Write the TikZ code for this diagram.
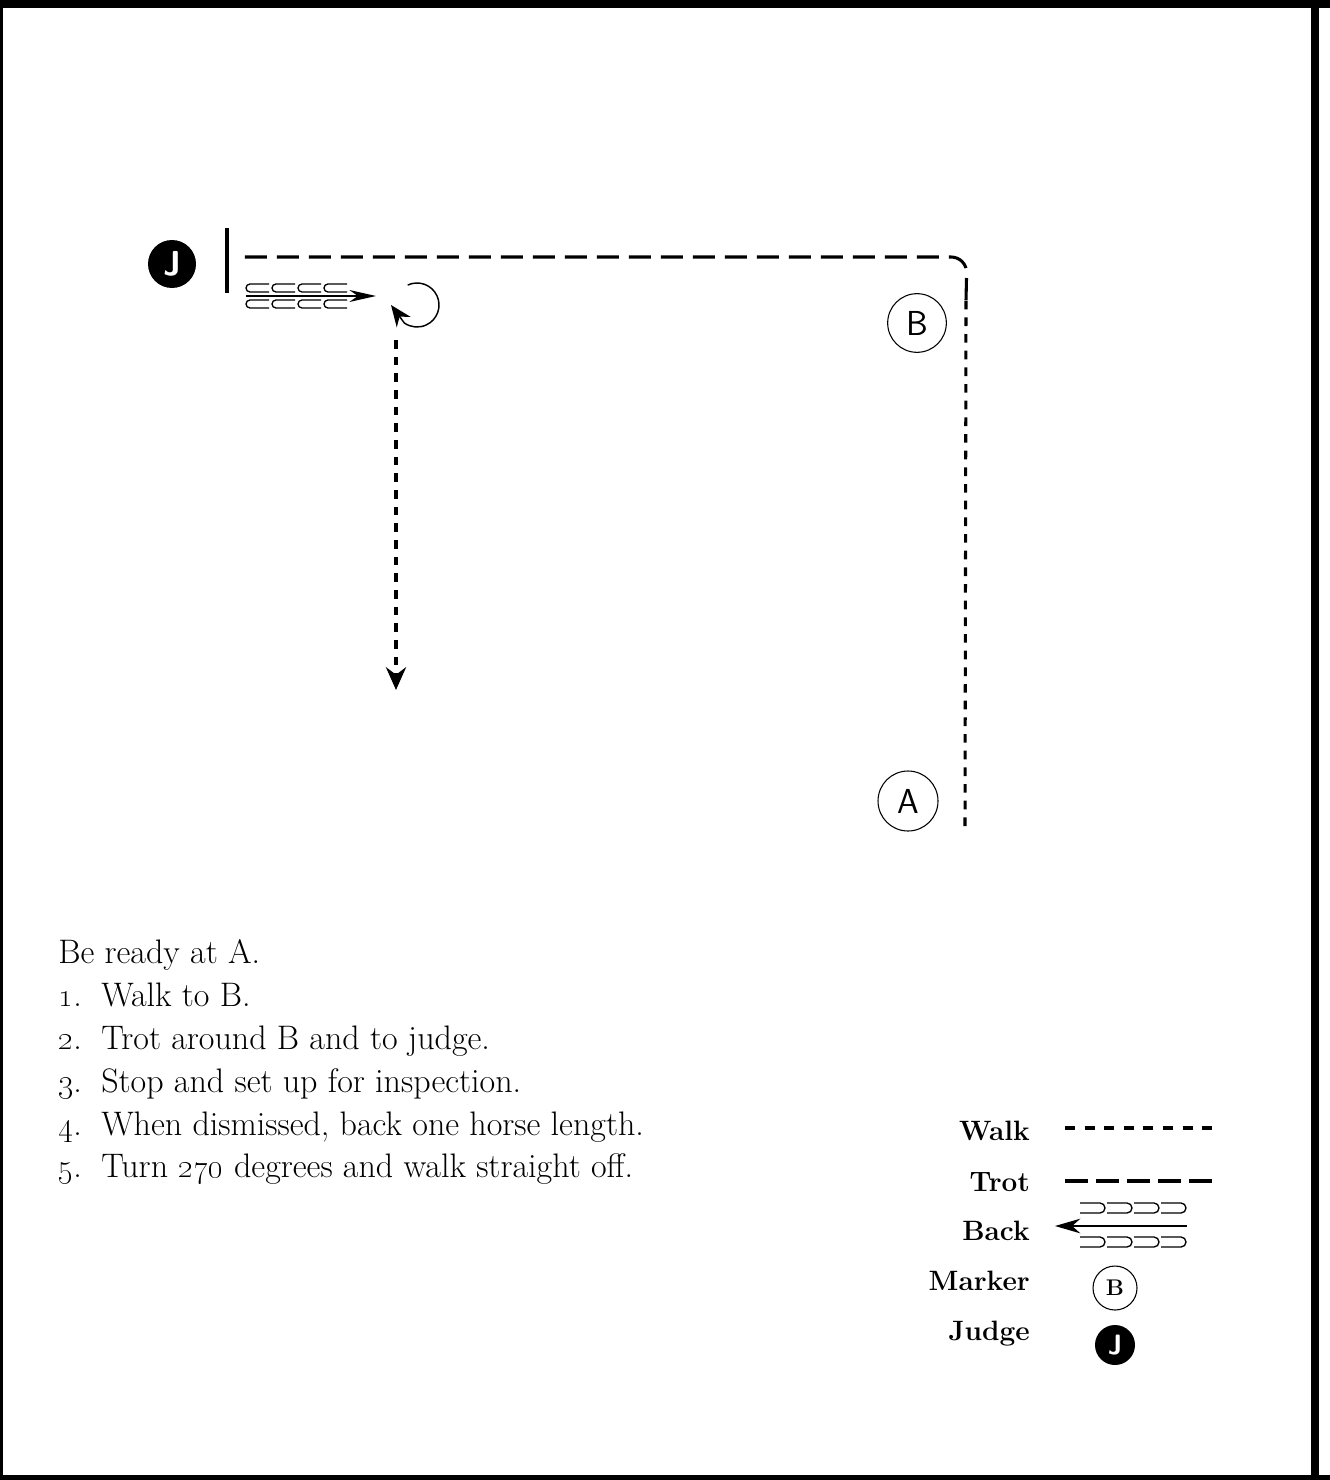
\documentclass[tikz,border=0pt]{standalone}
\usetikzlibrary{arrows.meta}
\tikzset{
  walk/.style={line width=2.3pt, dash pattern=on 6.5pt off 6pt},
  trot/.style={line width=2.3pt, dash pattern=on 16.5pt off 7.5pt},
  marker/.style={circle, draw, line width=0.8pt, inner sep=0pt, minimum size=44pt, font=\sffamily\fontsize{26}{26}\selectfont},
  judge/.style={circle, fill=black, text=white, inner sep=0pt, minimum size=36pt, font=\sffamily\bfseries\fontsize{26}{26}\selectfont},
  steptext/.style={anchor=base west, inner sep=0pt, font=\fontsize{25.5}{25.5}\selectfont},
  legendtext/.style={anchor=base east, inner sep=0pt, font=\bfseries\fontsize{21}{21}\selectfont}
}
\begin{document}
\begin{tikzpicture}[x=0.75pt, y=-0.75pt]
\useasboundingbox (0,0) rectangle (1330,1480);
\fill (0,0) rectangle (1330,8);
\fill (1311,0) rectangle (1319,1480);
\fill (0,1475) rectangle (1330,1480);
\fill (0,0) rectangle (3,1480);
\node[judge] (J) at (172,264) {J};
\node[marker] (B) at (917,323) {B};
\node[marker, minimum size=45pt] (A) at (908,801) {A};
\coordinate (bartop) at (227,228);
\coordinate (barbot) at (227,293);
\coordinate (start) at (965,826);
\coordinate (turn) at (966,300);
\coordinate (stop) at (236,257);
\coordinate (backend) at (376,296);
\coordinate (loop) at (417,305);
\coordinate (offend) at (396,690);
\draw[line width=2.3pt] (bartop) -- (barbot);
\draw[walk] (start) -- (turn);
\draw[trot, rounded corners=12pt] (turn) -- (967,257) -- (stop);
\draw[line width=1.1pt, -{Stealth[length=20pt, width=9pt]}] (246,296) -- (backend);
\foreach \x in {245,271,297,323}{
  \draw[line width=1pt] (\x+24,288-4) -- (\x+5,288-4) arc (-90:-270:4) -- (\x+24,288+4);
  \draw[line width=1pt] (\x+24,304-4) -- (\x+5,304-4) arc (-90:-270:4) -- (\x+24,304+4);
}
\draw[line width=1.1pt, -{Stealth[length=16pt, width=13pt]}] (loop) ++(-115:22) arc (-115:125:22) -- (391,305);
\draw[walk, line width=3pt, -{Stealth[length=17pt, width=15pt]}] (396,340) -- (offend);
\node[steptext] (s0) at (58,963) {Be ready at A.};
\node[steptext] (n1) at (58,1006) {\oldstylenums{1}.};
\node[steptext] (s1) at (101,1006) {Walk to B.};
\node[steptext] (n2) at (58,1049) {\oldstylenums{2}.};
\node[steptext] (s2) at (101,1049) {Trot around B and to judge.};
\node[steptext] (n3) at (58,1092) {\oldstylenums{3}.};
\node[steptext] (s3) at (101,1092) {Stop and set up for inspection.};
\node[steptext] (n4) at (58,1135) {\oldstylenums{4}.};
\node[steptext] (s4) at (101,1135) {When dismissed, back one horse length.};
\node[steptext] (n5) at (58,1177) {\oldstylenums{5}.};
\node[steptext] (s5) at (101,1177) {Turn \oldstylenums{270} degrees and walk straight off.};
\node[legendtext] (lwalk) at (1030,1140) {Walk};
\node[legendtext] (ltrot) at (1030,1191) {Trot};
\node[legendtext] (lback) at (1030,1240) {Back};
\node[legendtext] (lmarker) at (1030,1290) {Marker};
\node[legendtext] (ljudge) at (1030,1340) {Judge};
\draw[walk, dash pattern=on 7.5pt off 7.2pt] (1065,1128) -- (1212,1128);
\draw[trot, dash pattern=on 17.25pt off 6pt] (1065,1181) -- (1212,1181);
\draw[line width=1.1pt, -{Stealth[length=19pt, width=11pt]}] (1187,1226) -- (1055,1226);
\foreach \x in {1080,1107,1134,1161}{
  \draw[line width=1pt] (\x,1208-5) -- (\x+20,1208-5) arc (-90:90:5) -- (\x,1208+5);
  \draw[line width=1pt] (\x,1242-5) -- (\x+20,1242-5) arc (-90:90:5) -- (\x,1242+5);
}
\node[marker, minimum size=33pt, font=\bfseries\fontsize{17}{17}\selectfont] (mB) at (1115,1288) {B};
\node[judge, minimum size=30pt, font=\sffamily\bfseries\fontsize{21}{21}\selectfont] (mJ) at (1115,1345) {J};
\end{tikzpicture}
\end{document}
